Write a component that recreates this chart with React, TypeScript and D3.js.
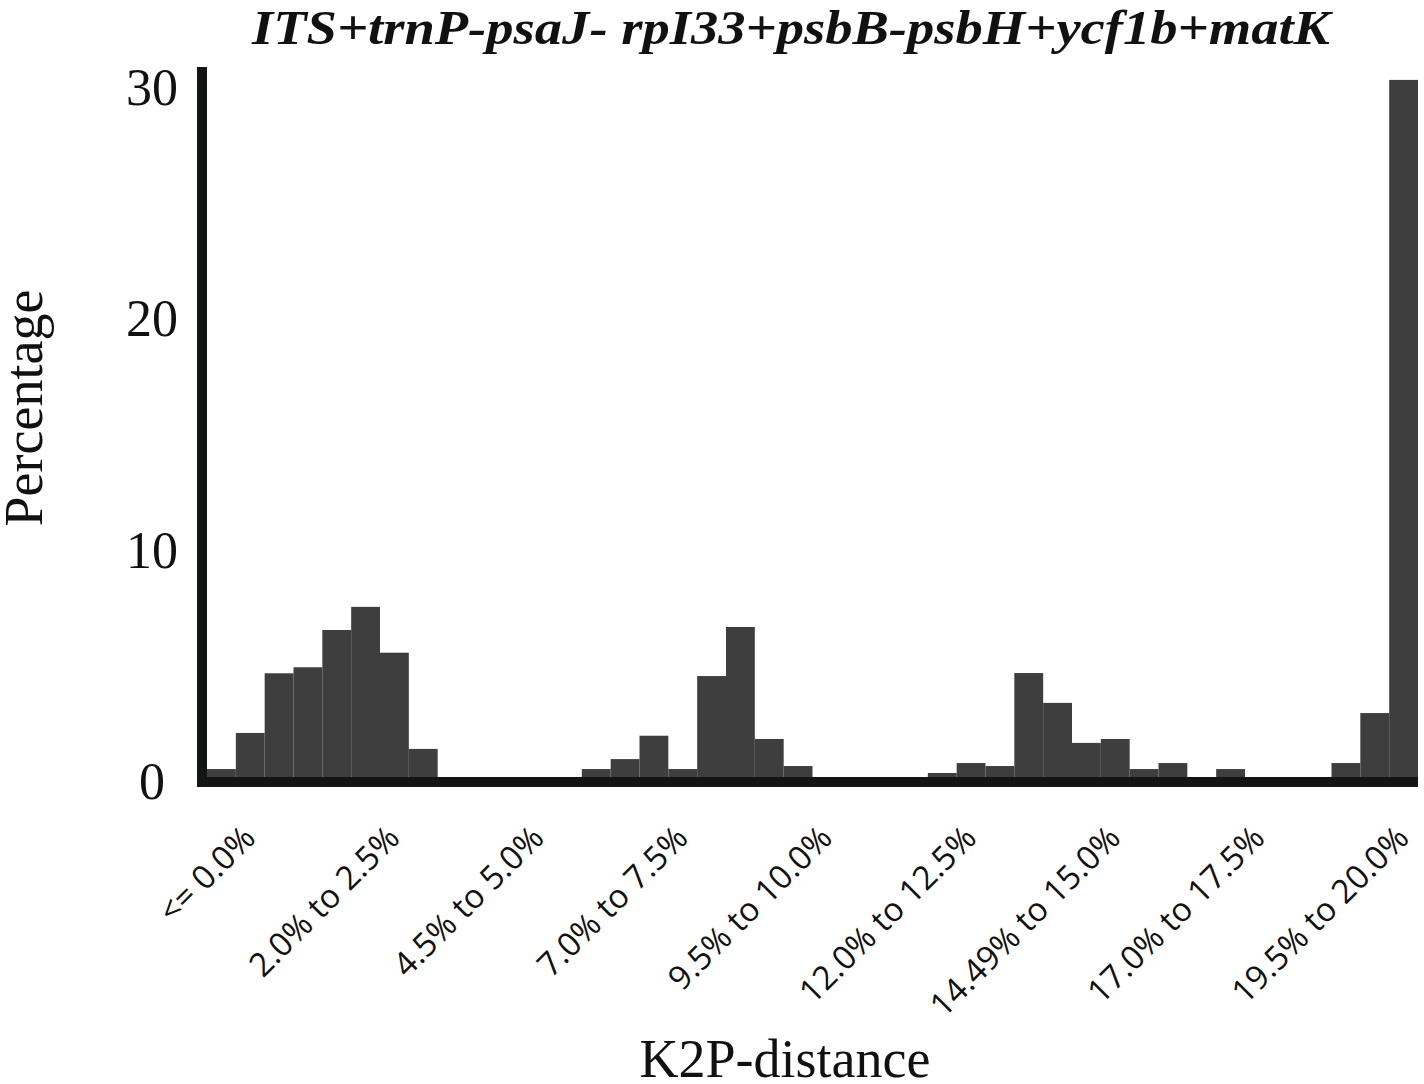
import React from "react";
import * as d3 from "d3";

const categories: string[] = [
  "<= 0.0%", "0.0% to 0.5%", "0.5% to 1.0%", "1.0% to 1.5%", "1.5% to 2.0%",
  "2.0% to 2.5%", "2.5% to 3.0%", "3.0% to 3.5%", "3.5% to 4.0%", "4.0% to 4.5%",
  "4.5% to 5.0%", "5.0% to 5.5%", "5.5% to 6.0%", "6.0% to 6.5%", "6.5% to 7.0%",
  "7.0% to 7.5%", "7.5% to 8.0%", "8.0% to 8.5%", "8.5% to 9.0%", "9.0% to 9.5%",
  "9.5% to 10.0%", "10.0% to 10.5%", "10.5% to 11.0%", "11.0% to 11.5%", "11.5% to 12.0%",
  "12.0% to 12.5%", "12.5% to 13.0%", "13.0% to 13.5%", "13.5% to 14.0%", "14.0% to 14.49%",
  "14.49% to 15.0%", "15.0% to 15.5%", "15.5% to 16.0%", "16.0% to 16.5%", "16.5% to 17.0%",
  "17.0% to 17.5%", "17.5% to 18.0%", "18.0% to 18.5%", "18.5% to 19.0%", "19.0% to 19.5%",
  "19.5% to 20.0%", "> 20.0%",
];

const percentages: number[] = [
  0.56, 2.12, 4.7, 4.96, 6.57, 7.57, 5.59, 1.43, 0, 0,
  0, 0, 0, 0.56, 0.99, 2.0, 0.56, 4.58, 6.7, 1.86,
  0.69, 0, 0, 0, 0, 0.39, 0.82, 0.69, 4.71, 3.42,
  1.69, 1.86, 0.56, 0.82, 0, 0.56, 0, 0, 0, 0.82,
  2.98, 30.35,
];

const labeledCategories: string[] = [
  "<= 0.0%", "2.0% to 2.5%", "4.5% to 5.0%", "7.0% to 7.5%", "9.5% to 10.0%",
  "12.0% to 12.5%", "14.49% to 15.0%", "17.0% to 17.5%", "19.5% to 20.0%",
];

const yTicks: number[] = [0, 10, 20, 30];

const title = "ITS+trnP-psaJ- rpI33+psbB-psbH+ycf1b+matK";
const xTitle = "K2P-distance";
const yTitle = "Percentage";

export default function App() {
  const W = 1424;
  const H = 1084;
  const x = d3.scaleBand<string>().domain(categories).range([207, 1418]).padding(0);
  const y = d3.scaleLinear().domain([0, 30]).range([782, 88]);
  const serif = "'Liberation Serif', 'Times New Roman', serif";
  const sans = "'Open Sans', 'Noto Sans', sans-serif";
  const barColor = "#3e3e3e";
  const axisColor = "#131515";

  return (
    <div style={{ position: "absolute", left: 0, top: 0 }}>
      <svg width={W} height={H} viewBox={`0 0 ${W} ${H}`} style={{ display: "block", background: "#fff" }}>
        <text
          x={791}
          y={44}
          textAnchor="middle"
          fontFamily={serif}
          fontWeight="bold"
          fontStyle="italic"
          fontSize={48}
          textLength={1078}
          lengthAdjust="spacingAndGlyphs"
          fill="#111"
        >
          {title}
        </text>
        {categories.map((c, i) => {
          const v = percentages[i];
          if (v <= 0) return null;
          return (
            <rect
              key={c}
              x={x(c)}
              y={y(v)}
              width={x.bandwidth()}
              height={y(0) - y(v)}
              fill={barColor}
            />
          );
        })}
        {/* axes */}
        <line x1={202} x2={202} y1={67} y2={787} stroke={axisColor} strokeWidth={10} />
        <line x1={197} x2={1418} y1={782} y2={782} stroke={axisColor} strokeWidth={10} />
        {yTicks.map((t) => (
          <text
            key={t}
            x={152}
            y={y(t) + 17}
            textAnchor="middle"
            fontFamily={serif}
            fontSize={52}
            fill="#111"
          >
            {t}
          </text>
        ))}
        {labeledCategories.map((c) => {
          const cx = (x(c) as number) + x.bandwidth() / 2 + 36;
          return (
            <text
              key={c}
              transform={`translate(${cx},${840}) rotate(-45)`}
              textAnchor="end"
              fontFamily={sans}
              fontSize={33}
              fill="#111"
            >
              {c}
            </text>
          );
        })}
        <text
          x={785}
          y={1077}
          textAnchor="middle"
          fontFamily={serif}
          fontSize={54}
          fill="#111"
        >
          {xTitle}
        </text>
        <text
          transform={`translate(42,408) rotate(-90)`}
          textAnchor="middle"
          fontFamily={serif}
          fontSize={54}
          fill="#111"
        >
          {yTitle}
        </text>
      </svg>
    </div>
  );
}
